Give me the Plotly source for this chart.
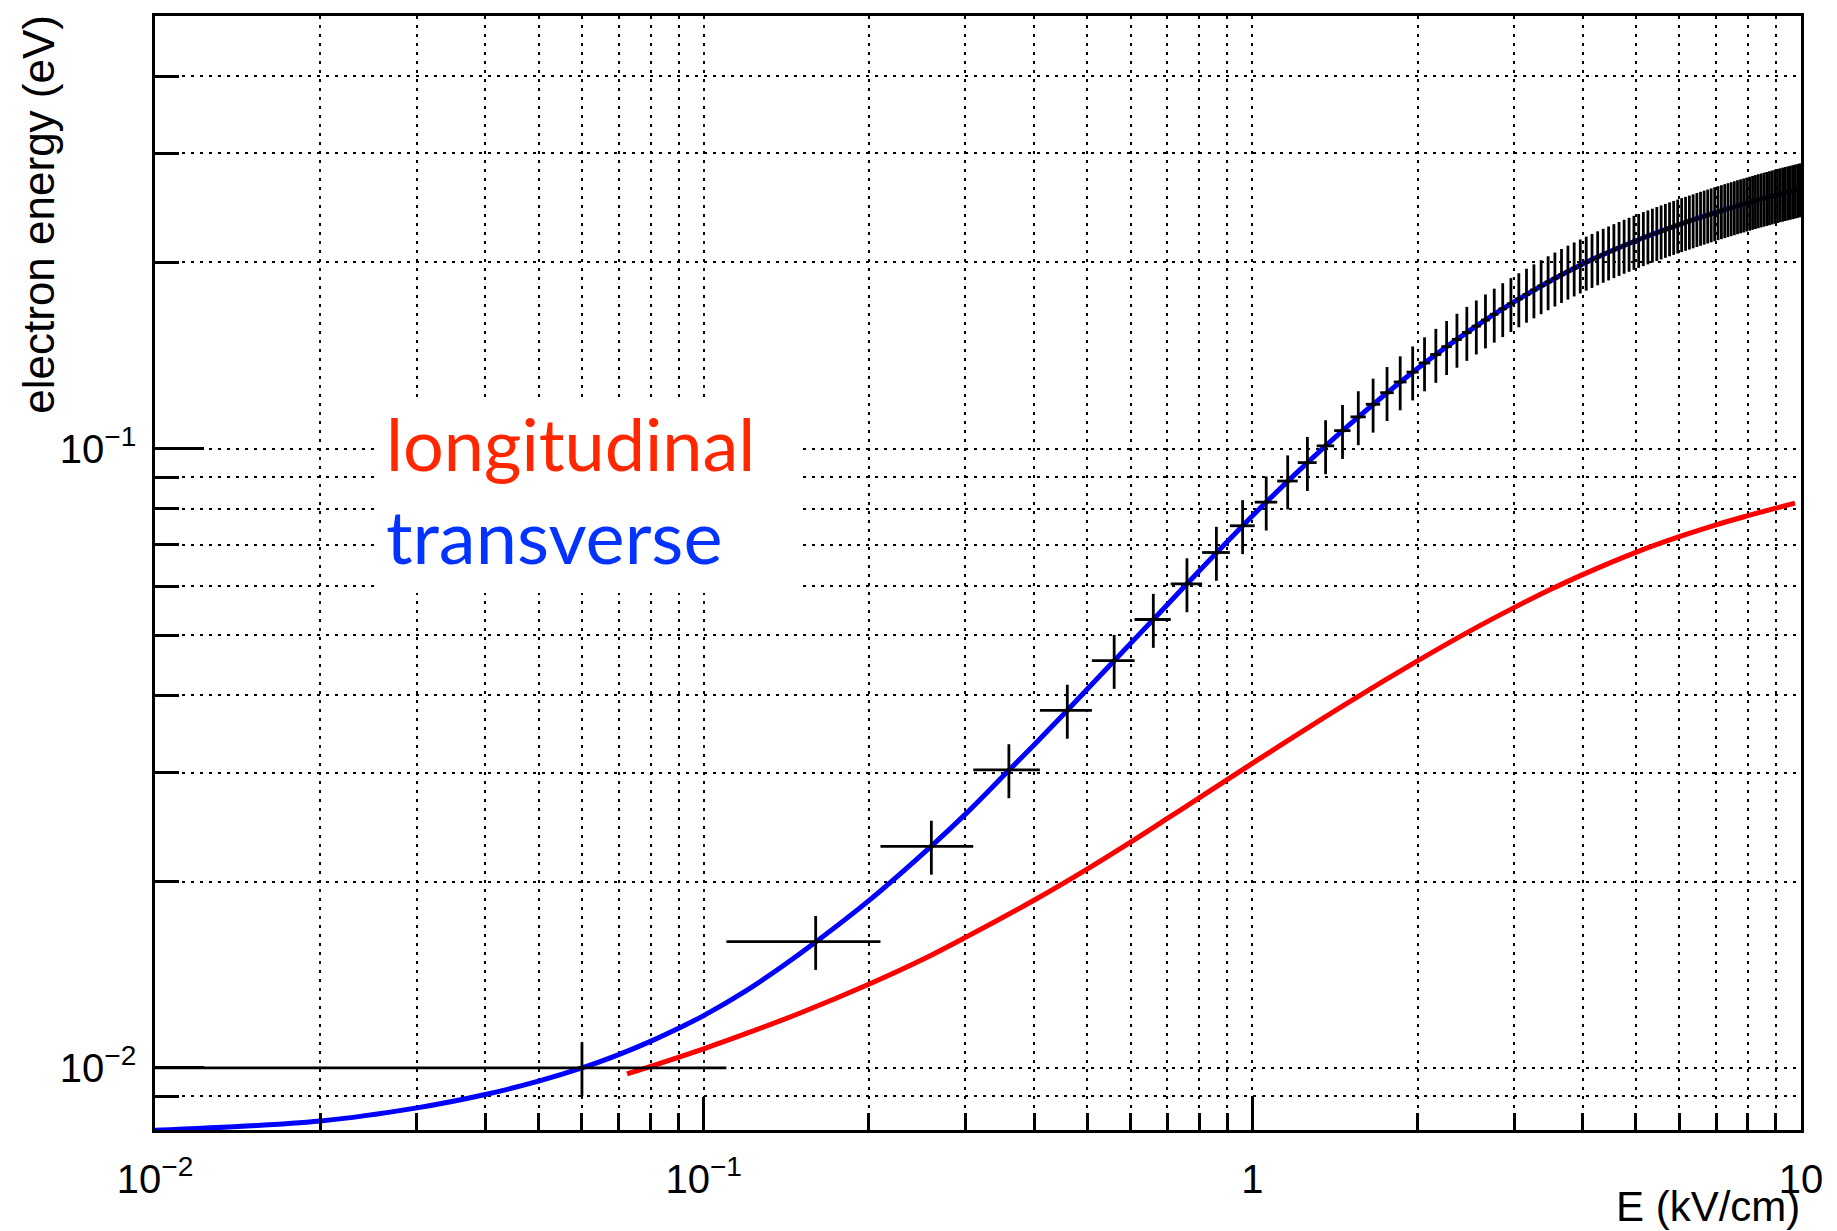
import plotly.graph_objects as go
import math

# ---------------- data ----------------
# measured points: bin centres (kV/cm), bin half-width 0.05, energy (eV), 10 % errors
E_meas = [0.06, 0.16, 0.26, 0.36, 0.46, 0.56, 0.66, 0.76, 0.86, 0.96,
          1.06, 1.16, 1.26, 1.36, 1.46, 1.56, 1.66, 1.76, 1.86, 1.96,
          2.06, 2.16, 2.26, 2.36, 2.46, 2.56, 2.66, 2.76, 2.86, 2.96,
          3.06, 3.16, 3.26, 3.36, 3.46, 3.56, 3.66, 3.76, 3.86, 3.96,
          4.06, 4.16, 4.26, 4.36, 4.46, 4.56, 4.66, 4.76, 4.86, 4.96,
          5.06, 5.16, 5.26, 5.36, 5.46, 5.56, 5.66, 5.76, 5.86, 5.96,
          6.06, 6.16, 6.26, 6.36, 6.46, 6.56, 6.66, 6.76, 6.86, 6.96,
          7.06, 7.16, 7.26, 7.36, 7.46, 7.56, 7.66, 7.76, 7.86, 7.96,
          8.06, 8.16, 8.26, 8.36, 8.46, 8.56, 8.66, 8.76, 8.86, 8.96,
          9.06, 9.16, 9.26, 9.36, 9.46, 9.56, 9.66, 9.76, 9.86, 9.96]
T_meas = [0.0100, 0.0160, 0.0228, 0.0303, 0.0378, 0.0455, 0.0530, 0.0605, 0.0680, 0.0751,
          0.0820, 0.0887, 0.0950, 0.1011, 0.1070, 0.1126, 0.1180, 0.1232, 0.1282, 0.1330,
          0.1376, 0.1420, 0.1462, 0.1502, 0.1541, 0.1578, 0.1614, 0.1649, 0.1683, 0.1715,
          0.1746, 0.1776, 0.1805, 0.1833, 0.1860, 0.1886, 0.1911, 0.1935, 0.1958, 0.1980,
          0.2001, 0.2021, 0.2041, 0.2060, 0.2078, 0.2096, 0.2113, 0.2130, 0.2146, 0.2162,
          0.2177, 0.2192, 0.2206, 0.2220, 0.2234, 0.2247, 0.2260, 0.2273, 0.2285, 0.2297,
          0.2309, 0.2320, 0.2331, 0.2342, 0.2353, 0.2364, 0.2374, 0.2384, 0.2394, 0.2404,
          0.2414, 0.2423, 0.2432, 0.2441, 0.2450, 0.2459, 0.2468, 0.2476, 0.2484, 0.2492,
          0.2500, 0.2508, 0.2516, 0.2524, 0.2531, 0.2538, 0.2545, 0.2552, 0.2559, 0.2566,
          0.2573, 0.2580, 0.2586, 0.2592, 0.2598, 0.2604, 0.2610, 0.2616, 0.2622, 0.2628]
E_halfwidth = 0.05
T_err_percent = 10

# transverse curve (blue)
trans_E = [0.01, 0.02, 0.03, 0.04, 0.05, 0.06, 0.07, 0.08, 0.09, 0.1, 0.12, 0.14, 0.16,
           0.2, 0.26, 0.3, 0.36, 0.4, 0.46, 0.5, 0.6, 0.7, 0.8, 1.0, 1.2, 1.5, 2.0, 2.5,
           3.0, 4.0, 5.0, 6.0, 7.0, 8.0, 9.0, 10.0]
trans_T = [0.00793, 0.00821, 0.00862, 0.00906, 0.00952, 0.01000, 0.01051, 0.01104, 0.01159,
           0.01215, 0.01336, 0.01465, 0.01597, 0.01863, 0.02282, 0.02570, 0.03025, 0.03325,
           0.03780, 0.04090, 0.04850, 0.05600, 0.06350, 0.07790, 0.09120, 0.10920, 0.13480,
           0.15560, 0.17270, 0.19880, 0.21680, 0.23020, 0.24080, 0.24950, 0.25690, 0.26310]

# longitudinal curve (red)
long_E = [0.0725, 0.1, 0.12, 0.15, 0.2, 0.25, 0.3, 0.4, 0.5, 0.6, 0.7, 0.8, 1.0,
          1.5, 2.0, 2.5, 3.0, 3.5, 4.0, 5.0, 6.0, 7.0, 8.0, 9.0, 9.75]
long_T = [0.00978, 0.01074, 0.01138, 0.01227, 0.01365, 0.01495, 0.01625, 0.01866, 0.02095,
          0.02316, 0.02529, 0.02730, 0.03105, 0.03898, 0.04544, 0.05086, 0.05540, 0.05929,
          0.06263, 0.06804, 0.07211, 0.07537, 0.07797, 0.08021, 0.08170]

# axis ticks
x_major = [0.01, 0.1, 1, 10]
x_major_text = ["10<sup>\u22122</sup>", "10<sup>\u22121</sup>", "1", "10"]
x_minor = [0.02, 0.03, 0.04, 0.05, 0.06, 0.07, 0.08, 0.09,
           0.2, 0.3, 0.4, 0.5, 0.6, 0.7, 0.8, 0.9,
           2, 3, 4, 5, 6, 7, 8, 9]
y_major = [0.01, 0.1]
y_major_text = ["10<sup>\u22122</sup>", "10<sup>\u22121</sup>"]
y_minor = [0.009, 0.02, 0.03, 0.04, 0.05, 0.06, 0.07, 0.08, 0.09, 0.2, 0.3, 0.4]
x_range = [0.01, 10]
y_range = [0.00794, 0.5]

x_title = "E (kV/cm)"
y_title = "electron energy (eV)"
label_long = "longitudinal"
label_trans = "transverse"

# ---------------- figure ----------------
FONT = "Liberation Sans, Arial, Helvetica, sans-serif"
DOT = "3px,6px"

fig = go.Figure()
fig.add_trace(go.Scatter(x=trans_E, y=trans_T, mode="lines",
                         line=dict(color="#0000ff", width=5, shape="spline", smoothing=1.0),
                         showlegend=False, hoverinfo="skip"))
fig.add_trace(go.Scatter(x=long_E, y=long_T, mode="lines",
                         line=dict(color="#ff0000", width=5, shape="spline", smoothing=1.0),
                         showlegend=False, hoverinfo="skip"))
fig.add_trace(go.Scatter(x=E_meas, y=T_meas, mode="markers",
                         marker=dict(size=1, color="black"),
                         error_x=dict(type="constant", value=E_halfwidth, color="black",
                                      thickness=2.8, width=0),
                         error_y=dict(type="percent", value=T_err_percent, color="black",
                                      thickness=2.8, width=0),
                         showlegend=False))

axis_common = dict(
    type="log", showline=True, mirror=True, linecolor="black", linewidth=2.5,
    ticks="inside", tickwidth=2.5, tickcolor="black", tickmode="array",
    tickfont=dict(family=FONT, size=40, color="black"),
    showgrid=True, gridcolor="black", gridwidth=2.2, griddash=DOT, zeroline=False,
)

fig.update_layout(
    width=1837, height=1231,
    margin=dict(l=155, r=36, t=16, b=101),
    paper_bgcolor="white", plot_bgcolor="white",
    xaxis=dict(axis_common, range=[math.log10(x_range[0]), math.log10(x_range[1])],
               tickvals=x_major, ticktext=x_major_text, ticklen=33,
               ticklabelstandoff=12,
               minor=dict(tickmode="array", tickvals=x_minor, ticks="inside", ticklen=17,
                          tickwidth=2.5, tickcolor="black", showgrid=True,
                          gridcolor="black", gridwidth=2.2, griddash=DOT)),
    yaxis=dict(axis_common, range=[math.log10(y_range[0]), math.log10(y_range[1])],
               tickvals=y_major, ticktext=y_major_text, ticklen=49,
               ticklabelstandoff=8,
               minor=dict(tickmode="array", tickvals=y_minor, ticks="inside", ticklen=24,
                          tickwidth=2.5, tickcolor="black", showgrid=True,
                          gridcolor="black", gridwidth=2.2, griddash=DOT)),
)

annotations = [
    # white box behind the labels
    dict(text=" ", xref="paper", yref="paper", x=0.1349, y=0.6571,
         xanchor="left", yanchor="top", width=420, height=195,
         bgcolor="white", borderpad=0, borderwidth=0, showarrow=False),
    dict(text=label_long, xref="paper", yref="paper", x=0.139, y=0.617,
         xanchor="left", yanchor="middle", showarrow=False,
         font=dict(family="Lato, sans-serif", size=72, color="#ff2600")),
    dict(text=label_trans, xref="paper", yref="paper", x=0.139, y=0.5335,
         xanchor="left", yanchor="middle", showarrow=False,
         font=dict(family="Lato, sans-serif", size=74, color="#0433ff")),
    dict(text=y_title, xref="paper", yref="paper", x=-0.0705, y=0.8225,
         xanchor="center", yanchor="middle", textangle=-90, showarrow=False,
         font=dict(family=FONT, size=44, color="black")),
    dict(text=x_title, xref="paper", yref="paper", x=1.0, y=-0.0685,
         xanchor="right", yanchor="middle", showarrow=False, borderpad=0,
         font=dict(family=FONT, size=42, color="black")),
]
fig.update_layout(annotations=annotations)

fig.write_html("out.html")
